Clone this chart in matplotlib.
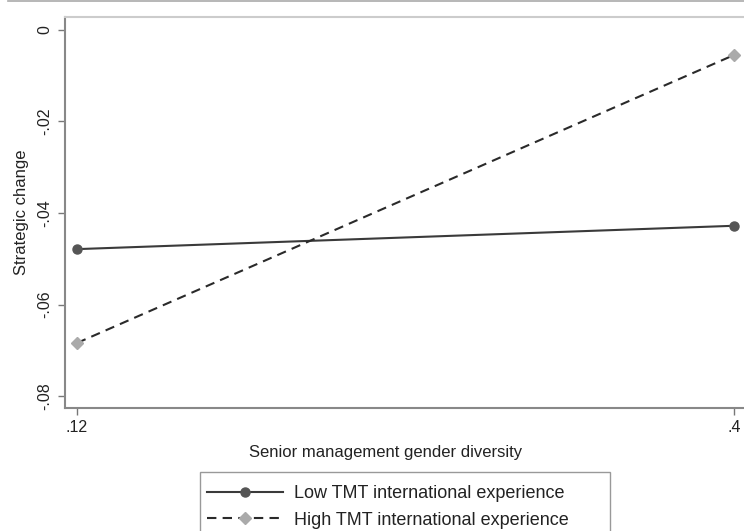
import matplotlib
matplotlib.use("Agg")
import matplotlib.pyplot as plt
from matplotlib.lines import Line2D
from matplotlib.patches import Rectangle

x_vals = [0.12, 0.40]
low_vals = [-0.0479, -0.0428]
high_vals = [-0.0684, -0.0055]
series_names = ["Low TMT international experience", "High TMT international experience"]
yticks = [0, -0.02, -0.04, -0.06, -0.08]
ytick_labels = ["0", "-.02", "-.04", "-.06", "-.08"]
xticks = [0.12, 0.40]
xtick_labels = [".12", ".4"]

plt.rcParams['font.family'] = ['Liberation Sans', 'DejaVu Sans']

W, H = 744, 531
fig = plt.figure(figsize=(W / 100, H / 100), dpi=100)
fig.patch.set_facecolor("white")

ax_l, ax_r, ax_t, ax_b = 65, 746, 17, 408
ax = fig.add_axes([ax_l / W, 1 - ax_b / H, (ax_r - ax_l) / W, (ax_b - ax_t) / H])

ax.plot(x_vals, low_vals, color="#3a3a3a", lw=1.5, marker="o", ms=6.5,
        mfc="#555555", mec="#555555", label=series_names[0], zorder=3)
ax.plot(x_vals, high_vals, color="#2a2a2a", lw=1.5, ls=(0, (4.5, 3)), marker="D", ms=6,
        mfc="#aaaaaa", mec="#aaaaaa", label=series_names[1], zorder=3)

ax.set_xlim(0.1149, 0.4051)
ax.set_ylim(-0.0826, 0.0028)

ax.set_yticks(yticks)
ax.set_yticklabels(ytick_labels, rotation=90, va="center", fontsize=11.5, color="#222222")
ax.set_xticks(xticks)
ax.set_xticklabels(xtick_labels, fontsize=11.5, color="#222222")
ax.tick_params(axis="both", direction="out", length=5, width=1, color="#777777", pad=4)

for s in ["left", "bottom"]:
    ax.spines[s].set_color("#888888")
    ax.spines[s].set_linewidth(1.5)
ax.spines["top"].set_color("#cccccc")
ax.spines["top"].set_linewidth(1.5)
ax.spines["right"].set_visible(False)

ax.set_ylabel("Strategic change", fontsize=12, color="#222222", labelpad=6)
ax.set_xlabel("Senior management gender diversity", fontsize=12, color="#222222", labelpad=9)
ax.xaxis.set_label_coords((386 - ax_l) / (ax_r - ax_l), -37 / (ax_b - ax_t))

fig.add_artist(Line2D([8 / W, 1], [1 - 0.8 / H, 1 - 0.8 / H], color="#aaaaaa", lw=1.2))

fig.add_artist(Rectangle((200 / W, -0.05), 410 / W, (1 - 472 / H) + 0.05,
                         transform=fig.transFigure, fill=False, edgecolor="#999999", lw=1.0))

leg = fig.legend(loc="upper left", bbox_to_anchor=(196 / W, 1 - 474 / H),
                 frameon=False, fontsize=13, handlelength=4.2,
                 borderpad=0.6, labelspacing=0.55, handletextpad=0.65, borderaxespad=0)
for t in leg.get_texts():
    t.set_color("#222222")

fig.savefig("out.png", dpi=100)
